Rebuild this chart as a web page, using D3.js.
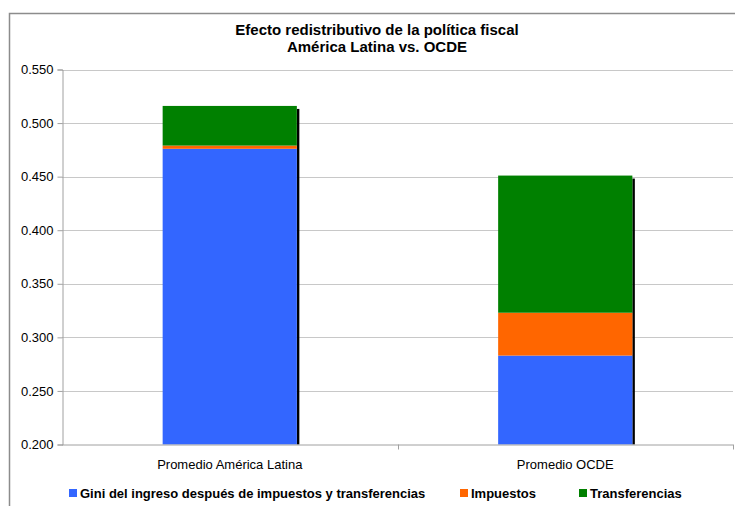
<!DOCTYPE html>
<html>
<head>
<meta charset="utf-8">
<script src="https://cdn.jsdelivr.net/npm/d3@7"></script>
<style>
body { margin: 0; background: #fff; }
text { font-family: "Liberation Sans", Arial, sans-serif; }
</style>
</head>
<body>
<svg id="chart" width="735" height="506"></svg>
<script>
// data
var categories = ["Promedio América Latina", "Promedio OCDE"];
var gini = [0.476, 0.283];
var impuestos = [0.003, 0.040];
var transferencias = [0.037, 0.128];
var seriesNames = ["Gini del ingreso después de impuestos y transferencias", "Impuestos", "Transferencias"];
var seriesColors = ["#3366ff", "#ff6600", "#008000"];
var yTicks = [0.2, 0.25, 0.3, 0.35, 0.4, 0.45, 0.5, 0.55];
var titleLines = ["Efecto redistributivo de la política fiscal", "América Latina vs. OCDE"];

var svg = d3.select("#chart");
var plotLeft = 62, plotRight = 733, plotTop = 69.5, plotBottom = 444.5;

// outer frame
svg.append("path")
    .attr("d", "M9.5,506 L9.5,13.5 L735,13.5")
    .attr("fill", "none")
    .attr("stroke", "#8c8c8c")
    .attr("stroke-width", 1.5);

svg.selectAll(".title")
    .data(titleLines)
    .enter().append("text")
    .attr("x", 377)
    .attr("y", function(d, i) { return 35 + i * 17; })
    .attr("text-anchor", "middle")
    .style("font-size", "15px")
    .style("font-weight", "bold")
    .text(function(d) { return d; });

var y = d3.scaleLinear().domain([0.2, 0.55]).range([plotBottom, plotTop]);
var x = d3.scaleBand().domain(categories).range([plotLeft, plotRight]).paddingInner(0.6).paddingOuter(0.3);

// gridlines
svg.append("g")
    .selectAll("line")
    .data(yTicks.slice(1))
    .enter().append("line")
    .attr("x1", plotLeft).attr("x2", plotRight)
    .attr("y1", function(d) { return Math.round(y(d)) + 0.5; })
    .attr("y2", function(d) { return Math.round(y(d)) + 0.5; })
    .attr("stroke", "#c8c8c8");

// y axis
var yAxis = svg.append("g")
    .attr("transform", "translate(" + (plotLeft + 0.5) + ",0)")
    .call(d3.axisLeft(y).tickValues(yTicks).tickFormat(d3.format(".3f")).tickSize(5).tickPadding(4));
yAxis.select(".domain").attr("stroke", "#a0a0a0");
yAxis.selectAll(".tick line").attr("stroke", "#a0a0a0");
yAxis.selectAll(".tick text").style("font-size", "13px").attr("fill", "#000");

// stacked bars
var rows = categories.map(function(c, i) {
    return { cat: c, gini: gini[i], imp: impuestos[i], tra: transferencias[i] };
});
var stack = d3.stack().keys(["gini", "imp", "tra"]);
var layers = stack(rows);

// shadow on the right side
svg.append("g")
    .selectAll("rect")
    .data(rows)
    .enter().append("rect")
    .attr("x", function(d) { return x(d.cat) + x.bandwidth(); })
    .attr("y", function(d) { return y(d.gini + d.imp + d.tra) + 3; })
    .attr("width", 2.5)
    .attr("height", function(d) { return plotBottom - y(d.gini + d.imp + d.tra) - 3; })
    .attr("fill", "#000");

svg.append("g")
    .selectAll("g")
    .data(layers)
    .enter().append("g")
    .attr("fill", function(d, i) { return seriesColors[i]; })
    .selectAll("rect")
    .data(function(d) { return d; })
    .enter().append("rect")
    .attr("x", function(d) { return x(d.data.cat); })
    .attr("y", function(d) { return y(d[1]); })
    .attr("width", x.bandwidth())
    .attr("height", function(d) {
        var lo = d[0] < 0.2 ? 0.2 : d[0];
        return y(lo) - y(d[1]);
    });

// x axis
svg.append("line")
    .attr("x1", plotLeft).attr("x2", plotRight)
    .attr("y1", plotBottom + 0.5).attr("y2", plotBottom + 0.5)
    .attr("stroke", "#a0a0a0");
var step = x.step();
svg.append("g")
    .selectAll("line")
    .data([plotLeft + step, plotRight])
    .enter().append("line")
    .attr("x1", function(d) { return Math.round(d) + 0.5; }).attr("x2", function(d) { return Math.round(d) + 0.5; })
    .attr("y1", plotBottom).attr("y2", plotBottom + 5)
    .attr("stroke", "#a0a0a0");
svg.append("g")
    .selectAll("text")
    .data(categories)
    .enter().append("text")
    .attr("x", function(d) { return x(d) + x.bandwidth() / 2; })
    .attr("y", 469)
    .attr("text-anchor", "middle")
    .style("font-size", "13px")
    .text(function(d) { return d; });

// legend
var legendX = [69, 460, 579];
var legend = svg.append("g")
    .selectAll("g")
    .data(seriesNames)
    .enter().append("g")
    .attr("transform", function(d, i) { return "translate(" + legendX[i] + ",489)"; });
legend.append("rect")
    .attr("width", 8).attr("height", 8)
    .attr("fill", function(d, i) { return seriesColors[i]; });
legend.append("text")
    .attr("x", 11)
    .attr("y", 9)
    .style("font-size", "13px")
    .style("font-weight", "bold")
    .text(function(d) { return d; });
</script>
</body>
</html>
